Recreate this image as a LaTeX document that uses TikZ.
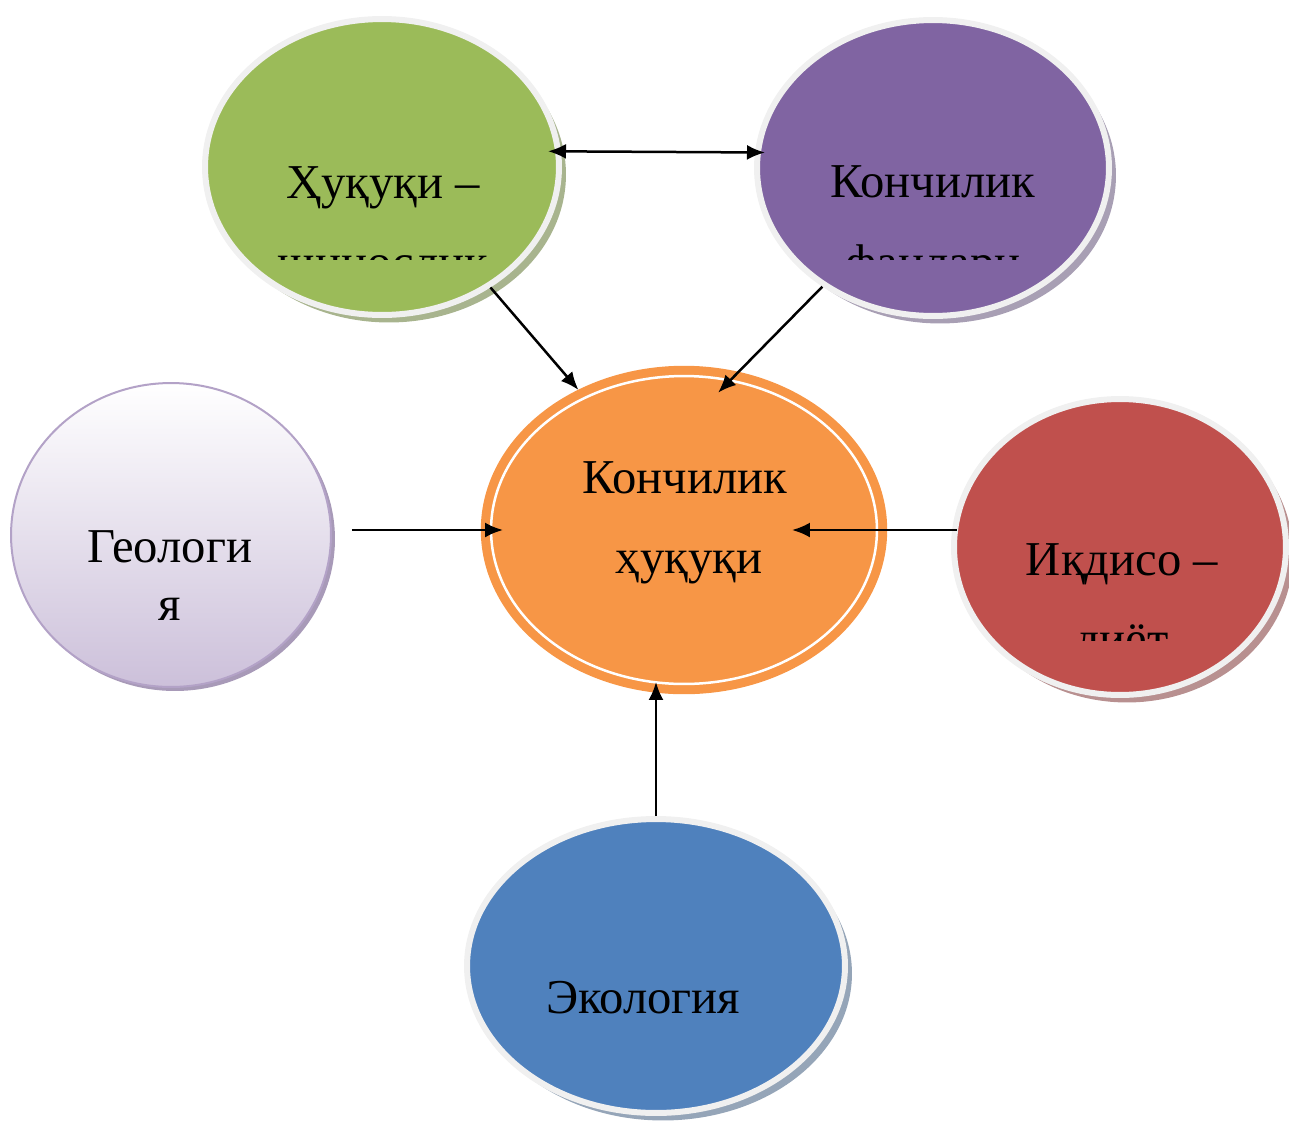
\documentclass[tikz,border=0pt]{standalone}
\usepackage{fontspec}
\setmainfont{Liberation Serif}
\usetikzlibrary{shapes.geometric,shadows,arrows.meta}

\definecolor{rim}{HTML}{F0F0F0}
\definecolor{hqgreen}{HTML}{9BBB59}
\definecolor{hqshadow}{HTML}{A8B48E}
\definecolor{kfpurple}{HTML}{8064A2}
\definecolor{kfshadow}{HTML}{A89FB4}
\definecolor{iqred}{HTML}{C0504D}
\definecolor{iqshadow}{HTML}{B89090}
\definecolor{ekblue}{HTML}{4F81BD}
\definecolor{ekshadow}{HTML}{95A5B8}
\definecolor{khorange}{HTML}{F79646}
\definecolor{geolilac}{HTML}{CCC0DA}
\definecolor{geoborder}{HTML}{B3A2C7}
\definecolor{geoshadow}{HTML}{A89AB8}

\begin{document}
\begin{tikzpicture}[
        x=0.02cm, y=-0.02cm,
        bubble/.style={ellipse, draw=rim, line width=0.12cm, inner sep=0pt},
        core/.style={ellipse, fill=khorange, draw=khorange, double=white, double distance=0.05cm, line width=0.18cm, inner sep=0pt, minimum width=7.72cm, minimum height=6.16cm, outer sep=0.2cm},
        label/.style={anchor=base, inner sep=0pt, font=\fontsize{27.7}{33}\selectfont},
        arrow/.style={-{Latex[length=0.36cm, width=0.3cm]}, line width=0.05cm},
        biarrow/.style={{Latex[length=0.36cm, width=0.3cm]}-{Latex[length=0.36cm, width=0.3cm]}, line width=0.05cm}
    ]
    \useasboundingbox (0,0) rectangle (1289,1127);

    \node[bubble, fill=hqgreen, minimum width=7.08cm, minimum height=5.92cm,
          drop shadow={shadow xshift=0.14cm, shadow yshift=-0.15cm, fill=hqshadow, opacity=1}] (hq) at (382,167) {};
    \node[bubble, fill=kfpurple, minimum width=7.04cm, minimum height=5.92cm,
          drop shadow={shadow xshift=0.14cm, shadow yshift=-0.15cm, fill=kfshadow, opacity=1}] (kf) at (933,168) {};
    \node[bubble, fill=iqred, minimum width=6.64cm, minimum height=5.92cm,
          drop shadow={shadow xshift=0.14cm, shadow yshift=-0.15cm, fill=iqshadow, opacity=1}] (iq) at (1120,547) {};
    \node[bubble, fill=ekblue, minimum width=7.56cm, minimum height=5.88cm,
          drop shadow={shadow xshift=0.14cm, shadow yshift=-0.15cm, fill=ekshadow, opacity=1}] (ek) at (656,966) {};
    \node[ellipse, draw=geoborder, line width=0.04cm, top color=white, bottom color=geolilac, inner sep=0pt,
          minimum width=6.4cm, minimum height=6.08cm,
          drop shadow={shadow xshift=0.08cm, shadow yshift=-0.08cm, fill=geoshadow, opacity=1}] (geo) at (171,535) {};
    \node[core] (kh) at (684,530) {};

    \node[label] (hq-a) at (383,198) {Ҳуқуқи –};
    \node[label] (kf-a) at (933,197) {Кончилик};
    \node[label] (iq-a) at (1122,575) {Иқдисо –};
    \node[label] (geo-a) at (170,562) {Геологи};
    \node[label] (geo-b) at (170,620) {я};
    \node[label] (kh-a) at (685,493) {Кончилик};
    \node[label] (kh-b) at (689,573) {ҳуқуқи};
    \node[label] (ek-a) at (643,1013) {Экология};

    % second lines cut off by the shape's text box
    \begin{scope}
        \clip (200,0) rectangle (1120,259);
        \node[label] (hq-b) at (383,278) {шинослик};
        \node[label] (kf-b) at (933,278) {фанлари};
    \end{scope}
    \begin{scope}
        \clip (960,560) rectangle (1289,640);
        \node[label] (iq-b) at (1122,655) {диёт};
    \end{scope}

    \draw[biarrow, shorten <=-0.26cm, shorten >=-0.2cm] (hq.5) -- (kf.175);
    \draw[arrow] (hq.-48.5) -- (kh.127.5);
    \draw[arrow, shorten >=-0.58cm] (kf.-133) -- (kh.71.6);
    \draw[arrow, shorten <=0.4cm, shorten >=-0.44cm] (geo.east |- kh) -- (kh.west);
    \draw[arrow, shorten <=-0.12cm, shorten >=-1.9cm] (iq.west |- kh) -- (kh.east);
    \draw[arrow, shorten >=-0.24cm] (ek.north) -- (kh.south -| ek.north);

\end{tikzpicture}
\end{document}
